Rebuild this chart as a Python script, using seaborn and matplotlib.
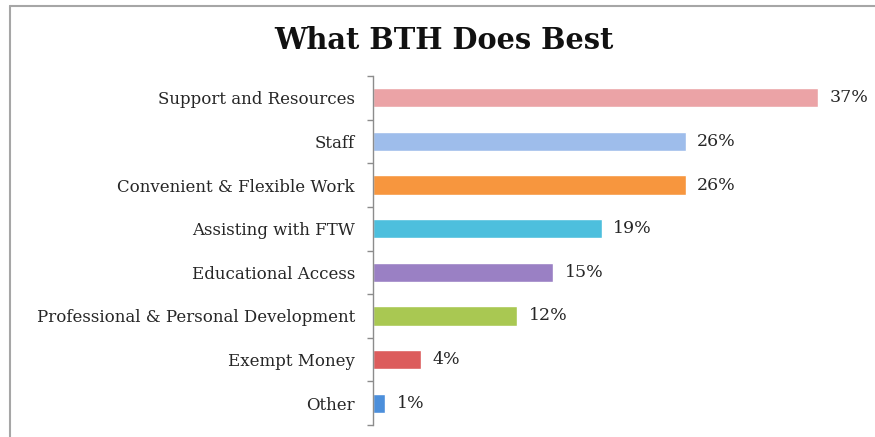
import matplotlib
matplotlib.use("Agg")
import matplotlib.pyplot as plt
from matplotlib.lines import Line2D
import seaborn as sns
import pandas as pd

categories = [
    "Support and Resources",
    "Staff",
    "Convenient & Flexible Work",
    "Assisting with FTW",
    "Educational Access",
    "Professional & Personal Development",
    "Exempt Money",
    "Other",
]
values = [37, 26, 26, 19, 15, 12, 4, 1]
value_labels = ["37%", "26%", "26%", "19%", "15%", "12%", "4%", "1%"]
bar_colors = ["#EBA3A6", "#9EBDEB", "#F7963E", "#4DBFDD",
              "#9A80C4", "#A9C852", "#DC5C5C", "#4C8FDB"]

df = pd.DataFrame({"category": categories, "value": values})

sns.set_theme(style="white")
plt.rcParams["font.family"] = ["DejaVu Serif"]

fig = plt.figure(figsize=(8.75, 4.37), dpi=100)
ax = fig.add_axes([0.4263, 0.0275, 0.55, 0.7985])

sns.barplot(data=df, x="value", y="category", hue="category",
            palette=bar_colors, legend=False, width=0.44,
            orient="h", ax=ax, saturation=1)

ax.set_xlim(0, 40)
ax.set_ylim(len(categories) - 0.5, -0.5)
ax.set_xlabel("")
ax.set_ylabel("")
ax.set_xticks([])

for side in ["top", "right", "bottom"]:
    ax.spines[side].set_visible(False)
ax.spines["left"].set_color("#8c8c8c")
ax.spines["left"].set_linewidth(1.0)

ax.set_yticks(range(len(categories)))
ax.set_yticklabels(categories, fontsize=12, color="#262626")
ax.set_yticks([i - 0.5 for i in range(len(categories) + 1)], minor=True)
ax.tick_params(axis="y", which="major", length=0, pad=13)
ax.tick_params(axis="y", which="minor", length=4, width=1.0,
               color="#8c8c8c", direction="out", left=True)

for i, (v, lab) in enumerate(zip(values, value_labels)):
    ax.text(v + 0.95, i, lab, va="center", ha="left",
            fontsize=12.5, color="#262626")

fig.text(0.507, 0.907, "What BTH Does Best", ha="center", va="center",
         fontsize=20.8, fontweight="bold", color="#111111")

# outer chart frame (left and top edges)
fig.add_artist(Line2D([0.0115, 0.0115], [0.0, 0.986], transform=fig.transFigure,
                      color="#a6a6a6", linewidth=1.5))
fig.add_artist(Line2D([0.0115, 1.0], [0.986, 0.986], transform=fig.transFigure,
                      color="#a6a6a6", linewidth=1.5))

fig.savefig("out.png", dpi=100)
